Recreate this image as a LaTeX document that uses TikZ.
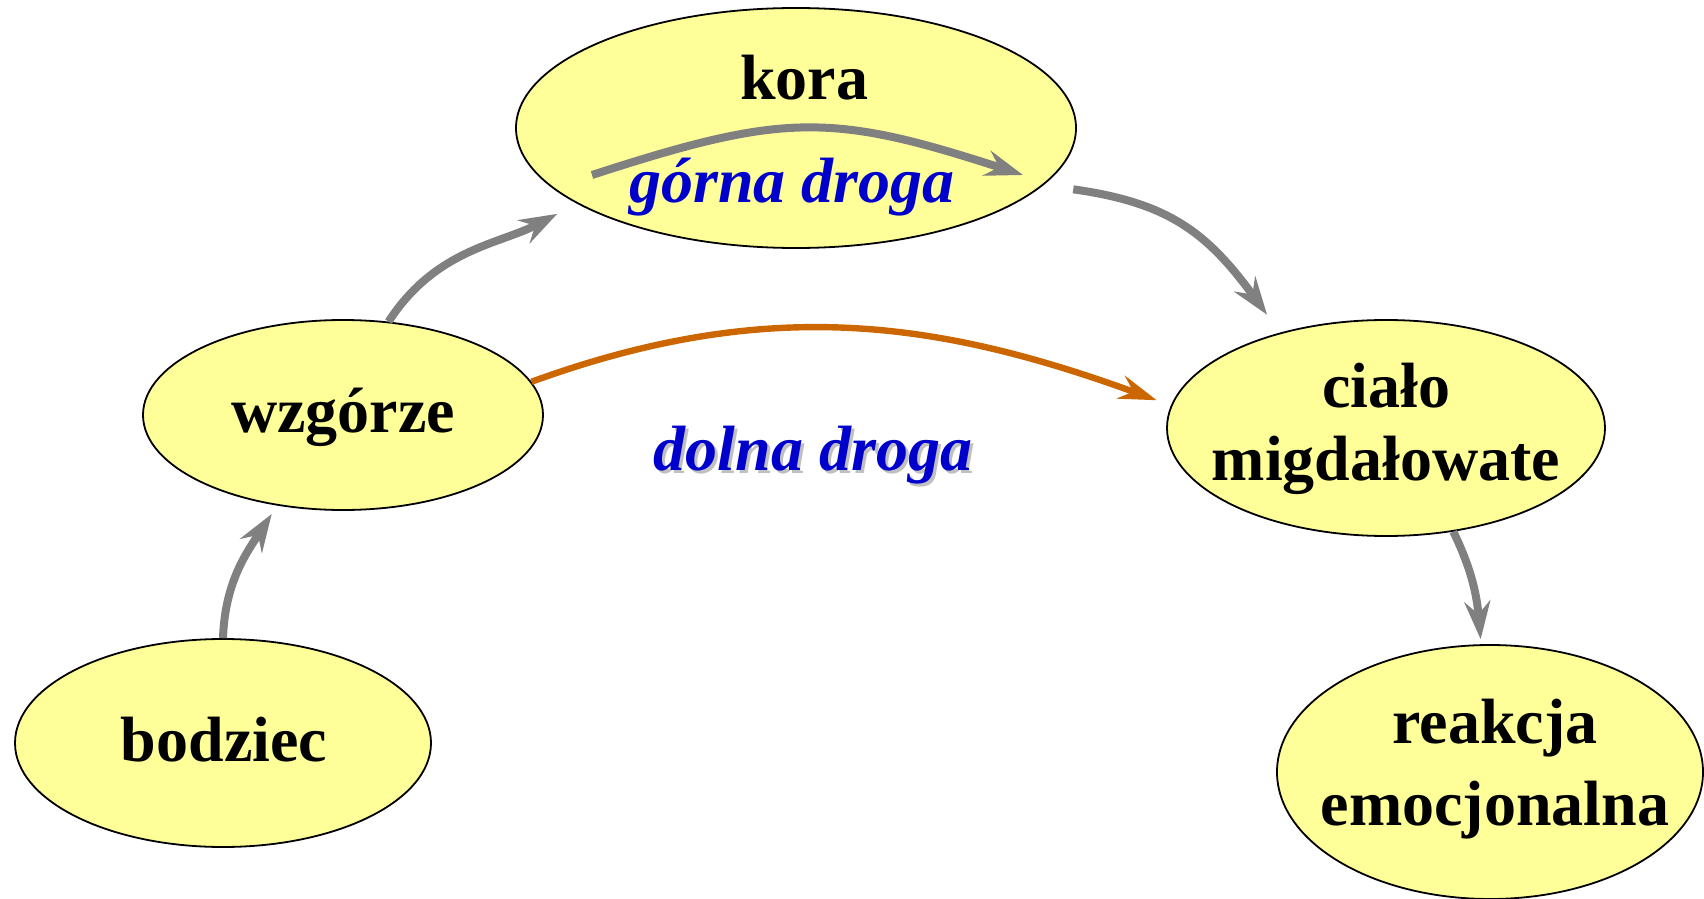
\documentclass[tikz,border=0pt]{standalone}
\usepackage{fontspec}
\setmainfont{Liberation Serif}
\usetikzlibrary{shapes.geometric,arrows.meta}
\definecolor{blobFill}{HTML}{FFFF99}
\definecolor{arrowGray}{HTML}{808080}
\definecolor{lowOrange}{HTML}{CC6600}
\definecolor{pathBlue}{HTML}{0000CC}
\definecolor{shadowGray}{HTML}{C0C0C0}
\begin{document}
\begin{tikzpicture}[x=0.5pt, y=0.5pt, blobStyle/.style={ellipse, draw, line width=0.9pt, fill=blobFill, inner sep=0pt}, wordStyle/.style={font=\fontsize{32}{36.5}\selectfont\bfseries, inner sep=0pt, align=center}, pathStyle/.style={font=\fontsize{32}{36.5}\selectfont\bfseries\itshape, inner sep=0pt}, arrowStyle/.style={draw=arrowGray, line width=4pt, -{Stealth[length=19pt, width=13pt, inset=6.5pt]}}, lowStyle/.style={draw=lowOrange, line width=3.2pt, -{Stealth[length=19pt, width=12pt, inset=6.5pt]}}]
                    \useasboundingbox (0,0) rectangle (1704,-899);

                    \node[blobStyle, minimum width=280pt, minimum height=120pt] (kora)    at ( 796,-128) {};
                    \node[blobStyle, minimum width=200pt, minimum height=95pt]  (wzgorze) at ( 343,-415) {};
                    \node[blobStyle, minimum width=208pt, minimum height=104pt] (bodziec) at ( 223,-743) {};
                    \node[blobStyle, minimum width=219pt, minimum height=108pt] (cialo)   at (1386,-428) {};
                    \node[blobStyle, minimum width=213pt, minimum height=127pt] (reakcja) at (1490,-772) {};

                    \node[wordStyle, anchor=base] (kora_t)    at ( 804,-100) {kora};
                    \node[wordStyle, anchor=base] (wzgorze_t) at ( 343,-432) {wzgórze};
                    \node[wordStyle, anchor=base] (bodziec_t) at ( 224,-761) {bodziec};
                    \node[wordStyle]              (cialo_t)   at (1386,-429) {ciało\\migdałowate};
                    \node[wordStyle, font=\fontsize{32}{41}\selectfont\bfseries] (reakcja_t) at (1495,-769) {reakcja\\emocjonalna};

                    \node[pathStyle, text=pathBlue, anchor=base]   (gorna)   at (792,-203) {górna droga};
                    \node[pathStyle, text=shadowGray, anchor=base] (dolna_S) at (816,-473) {dolna droga};
                    \node[pathStyle, text=pathBlue, anchor=base]   (dolna)   at (813,-470) {dolna droga};

                    \coordinate (gorna_S0) at ( 592,-175);
                    \coordinate (gorna_S1) at (1023,-175);

                    \draw[arrowStyle] (gorna_S0) to[out=18, in=162, looseness=1.2] (gorna_S1);
                    \draw[arrowStyle, shorten <=15pt, shorten >=11pt] (kora.-13) to[out=-8, in=126, looseness=1.15] (cialo.138);
                    \draw[arrowStyle, shorten >=11pt] (wzgorze.64) to[out=57, in=-152] (kora.-161);
                    \draw[arrowStyle, shorten >=5pt] (bodziec.north) to[out=88, in=-123] (wzgorze.-126);
                    \draw[arrowStyle, shorten >=2.5pt] (cialo.-57) to[out=-64, in=95] (reakcja.94);

                    \draw[lowStyle, shorten >=7.5pt] (wzgorze.10) to[out=20, in=160] (cialo.174);
                \end{tikzpicture}
\end{document}
